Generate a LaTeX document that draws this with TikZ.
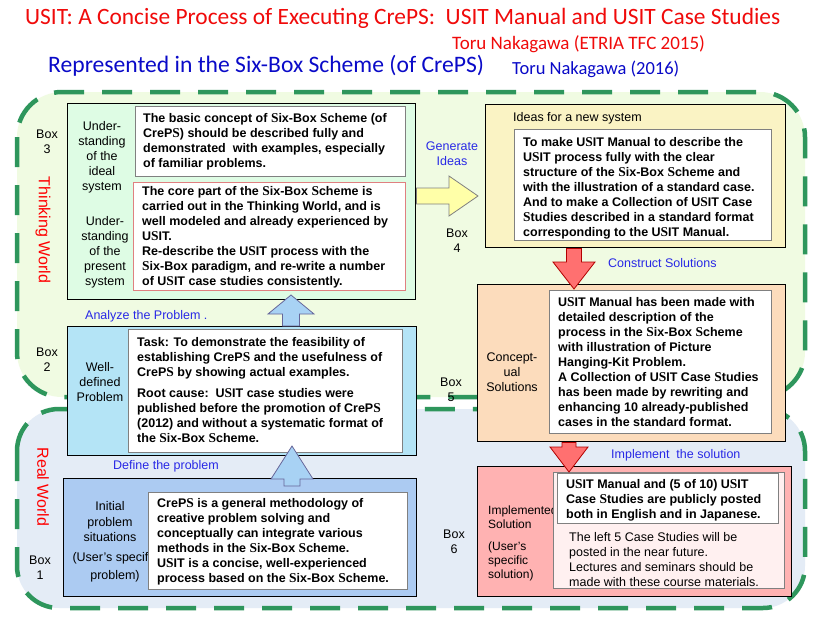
\documentclass[tikz,border=0pt]{standalone}
\usepackage{fontspec}
\setmainfont{Liberation Sans}
\newfontfamily\titlefont{Carlito}
\newfontfamily\serifS{Liberation Serif}
\newcommand\bS{{\serifS\bfseries\fontsize{13.5}{15}\selectfont S}}
\usetikzlibrary{calc}
\definecolor{thinkfill}{RGB}{240,251,226}
\definecolor{realfill}{RGB}{228,236,246}
\definecolor{dashgreen}{RGB}{46,150,92}
\definecolor{boxthree}{RGB}{222,252,228}
\definecolor{boxfour}{RGB}{250,243,196}
\definecolor{boxfive}{RGB}{252,220,188}
\definecolor{boxsix}{RGB}{255,178,178}
\definecolor{boxsixin}{RGB}{255,240,240}
\definecolor{boxtwo}{RGB}{180,228,246}
\definecolor{boxone}{RGB}{172,203,242}
\definecolor{innerred}{RGB}{224,128,128}
\definecolor{labelblue}{RGB}{40,40,230}
\definecolor{titlered}{RGB}{240,10,10}
\definecolor{titleblue}{RGB}{10,10,200}
\definecolor{arrowyellow}{RGB}{255,255,168}
\definecolor{arrowred}{RGB}{255,112,112}
\definecolor{arrowblue}{RGB}{168,210,244}
\tikzset{
  outerbox/.style={draw=black, line width=1.4pt, rectangle, anchor=north west, inner sep=0pt},
  innerbox/.style={draw=gray, line width=0.9pt, rectangle, anchor=north west, inner sep=0pt, fill=white},
  bodytext/.style={anchor=north west, inner sep=0pt, align=left, font=\fontsize{12.5}{15}\selectfont\bfseries},
  plaintext/.style={inner sep=0pt, align=center, font=\fontsize{12.5}{15}\selectfont},
  bluelabel/.style={inner sep=0pt, text=labelblue, font=\fontsize{12.5}{15}\selectfont},
  worldlabel/.style={inner sep=0pt, text=red, rotate=-90, font=\fontsize{16}{18}\selectfont},
  worldborder/.style={draw=dashgreen, line width=4.5pt, dash pattern=on 30pt off 18pt, rounded corners=45pt},
  fatarrow/.style={line width=0.8pt, line join=miter}
}
\begin{document}
\begin{tikzpicture}[x=1pt,y=-1pt]
\useasboundingbox[fill=white] (0,0) rectangle (825,624);
% titles
\node[anchor=west, inner sep=0pt, text=titlered, font=\titlefont\fontsize{23.4}{26}\selectfont] (title) at (25,18) {USIT: A Concise Process of Executing CrePS:\ \ USIT Manual and USIT Case Studies};
\node[anchor=west, inner sep=0pt, text=titlered, font=\titlefont\fontsize{19}{20}\selectfont] (auth1) at (452,44) {Toru Nakagawa (ETRIA TFC 2015)};
\node[anchor=west, inner sep=0pt, text=titleblue, font=\titlefont\fontsize{23.6}{26}\selectfont] (subtitle) at (48,66) {Represented in the Six-Box Scheme (of CrePS)};
\node[anchor=west, inner sep=0pt, text=titleblue, font=\titlefont\fontsize{18.5}{20}\selectfont] (auth2) at (512,69) {Toru Nakagawa (2016)};
% worlds
\path[fill=thinkfill, rounded corners=45pt] (17,92) rectangle (805,397);
\path[worldborder] (17,92) rectangle (805,397);
\path[fill=realfill, rounded corners=42pt] (17,409) rectangle (805,608);
\path[worldborder, rounded corners=42pt] (17,409) rectangle (805,608);
\node[worldlabel] (thinking) at (43,230) {Thinking World};
\node[worldlabel] (real) at (43,487) {Real World};
% Box 3
\node[outerbox, fill=boxthree, minimum width=348pt, minimum height=196pt] (box3) at (67,103) {};
\node[innerbox, minimum width=270pt, minimum height=70pt] (in3a) at (135,106) {};
\node[innerbox, draw=innerred, minimum width=272pt, minimum height=108pt] (in3b) at (133,182) {};
\node[bodytext] (t3a) at (143,113) {The basic concept of \bS ix-Box \bS cheme (of\\Cre{P}\bS) should be described fully and\\demonstrated\ \ with examples, especially\\of familiar problems.};
\node[bodytext] (t3b) at (142,186) {The core part of the \bS ix-Box \bS cheme is\\carried out in the Thinking World, and is\\well modeled and already experienced by\\U\bS IT.\\Re-describe the U\bS IT process with the\\\bS ix-Box paradigm, and re-write a number\\of U\bS IT case studies consistently.};
\node[plaintext] (box3lbl) at (47,142) {Box\\3};
\node[plaintext] (ideal) at (102,157) {Under-\\standing\\of the\\ideal\\system};
\node[plaintext] (present) at (105,252) {Under-\\standing\\of the\\present\\system};
% Box 4
\node[outerbox, fill=boxfour, minimum width=300pt, minimum height=143pt] (box4) at (485,104) {};
\node[anchor=west, inner sep=0pt, font=\fontsize{12.5}{15}\selectfont] (ideas) at (513,118) {Ideas for a new system};
\node[innerbox, minimum width=257pt, minimum height=111pt] (in4) at (514,129) {};
\node[bodytext] (t4) at (523,137) {To make U\bS IT Manual to describe the\\U\bS IT process fully with the clear\\structure of the \bS ix-Box \bS cheme and\\with the illustration of a standard case.\\And to make a Collection of U\bS IT Case\\\bS tudies described in a standard format\\corresponding to the U\bS IT Manual.};
\node[plaintext] (box4lbl) at (457,241) {Box\\4};
\node[bluelabel, align=center] (gen) at (452,154) {Generate\\Ideas};
% Box 5
\node[outerbox, fill=boxfive, minimum width=308pt, minimum height=157pt] (box5) at (477,284) {};
\node[innerbox, minimum width=222pt, minimum height=143pt] (in5) at (549,290) {};
\node[bodytext] (t5) at (558,297) {U\bS IT Manual has been made with\\detailed description of the\\process in the \bS ix-Box \bS cheme\\with illustration of Picture\\Hanging-Kit Problem.\\A Collection of U\bS IT Case \bS tudies\\has been made by rewriting and\\enhancing 10 already-published\\cases in the standard format.};
\node[plaintext] (concept) at (512,372) {Concept-\\ual\\Solutions};
\node[plaintext] (box5lbl) at (451,390) {Box\\5};
\node[bluelabel, anchor=west] (construct) at (608,263) {Construct Solutions};
% Box 6
\node[outerbox, fill=boxsix, minimum width=314pt, minimum height=130pt] (box6) at (477,466) {};
\node[anchor=west, inner sep=0pt, align=left, font=\fontsize{12}{13.5}\selectfont] (impl) at (488,517) {Implemented\\Solution};
\node[anchor=west, inner sep=0pt, align=left, font=\fontsize{12}{14}\selectfont] (usersol) at (488,561) {(User's\\specific\\solution)};
\node[innerbox, fill=boxsixin, minimum width=231pt, minimum height=116pt] (in6) at (553,472) {};
\node[innerbox, minimum width=221pt, minimum height=50pt] (in6a) at (557,473) {};
\node[bodytext] (t6a) at (566,479) {U\bS IT Manual and (5 of 10) U\bS IT\\Case \bS tudies are publicly posted\\both in English and in Japanese.};
\node[bodytext, font=\fontsize{12.5}{15}\selectfont] (t6b) at (569,532) {The left 5 Case Studies will be\\posted in the near future.\\Lectures and seminars should be\\made with these course materials.};
\node[plaintext] (box6lbl) at (454,542) {Box\\6};
\node[bluelabel, anchor=west] (implement) at (611,455) {Implement\ \ the solution};
% Box 2
\node[outerbox, fill=boxtwo, minimum width=349pt, minimum height=129pt] (box2) at (67,326) {};
\node[innerbox, minimum width=274pt, minimum height=123pt] (in2) at (128,329) {};
\node[bodytext] (t2) at (137,337) {Task: To demonstrate the feasibility of\\establishing Cre{P}\bS\ and the usefulness of\\Cre{P}\bS\ by showing actual examples.\\[6pt]Root cause:\ \ U\bS IT case studies were\\published before the promotion of Cre{P}\bS\\(2012) and without a systematic format of\\the \bS ix-Box \bS cheme.};
\node[plaintext] (welldef) at (100,382) {Well-\\defined\\Problem};
\node[plaintext] (box2lbl) at (47,360) {Box\\2};
\node[bluelabel, anchor=west] (analyze) at (85,316) {Analyze the Problem .};
% Box 1
\node[outerbox, fill=boxone, minimum width=353pt, minimum height=118pt] (box1) at (63,478) {};
\node[plaintext, font=\fontsize{12.5}{15.5}\selectfont] (initial) at (110,522) {Initial\\problem\\situations};
\node[plaintext, font=\fontsize{12.5}{18}\selectfont] (userprob) at (115,567) {(User's specific\\problem)};
\node[innerbox, minimum width=259pt, minimum height=97pt] (in1) at (148,492) {};
\node[bodytext] (t1) at (157,498) {Cre{P}\bS\ is a general methodology of\\creative problem solving and\\conceptually can integrate various\\methods in the \bS ix-Box \bS cheme.\\U\bS IT is a concise, well-experienced\\process based on the \bS ix-Box \bS cheme.};
\node[plaintext] (box1lbl) at (40,568) {Box\\1};
\node[bluelabel, anchor=west] (define) at (113,466) {Define the problem};
% connectors (fat arrows)
\coordinate (ya) at (box3.east |- 0,196);
\coordinate (yb) at (478,196);
\draw[fatarrow, draw=gray, fill=arrowyellow] ($(ya)+(0,-8)$) -- (449,188) -- (449,176) -- (yb) -- (449,216) -- (449,204) -- ($(ya)+(0,8)$) -- cycle;
\coordinate (ra) at (box4.south -| 574,0);
\coordinate (rb) at (574,289);
\draw[fatarrow, draw=red!70!black, fill=arrowred] ($(ra)+(-7.5,0)$) -- (566.5,262) -- (553,262) -- (rb) -- (595,262) -- (581.5,262) -- ($(ra)+(7.5,0)$) -- cycle;
\coordinate (rc) at (box5.south -| 569,0);
\coordinate (rd) at (569,472);
\draw[fatarrow, draw=red!70!black, fill=arrowred] ($(rc)+(-7,0)$) -- (562,447) -- (550,447) -- (rd) -- (588,447) -- (576,447) -- ($(rc)+(7,0)$) -- cycle;
\coordinate (ba) at (box2.north -| 291,0);
\coordinate (bb) at (291,295);
\draw[fatarrow, draw=gray!80!blue, fill=arrowblue] ($(ba)+(-8.5,0)$) -- (282.5,314) -- (268,314) -- (bb) -- (314,314) -- (299.5,314) -- ($(ba)+(8.5,0)$) -- cycle;
\coordinate (bc) at (292,486);
\coordinate (bd) at (292,446);
\draw[fatarrow, draw=gray!80!blue, fill=arrowblue] ($(bc)+(-8,0)$) -- (284,479) -- (271,479) -- (bd) -- (313,479) -- (300,479) -- ($(bc)+(8,0)$) -- cycle;
\end{tikzpicture}
\end{document}
